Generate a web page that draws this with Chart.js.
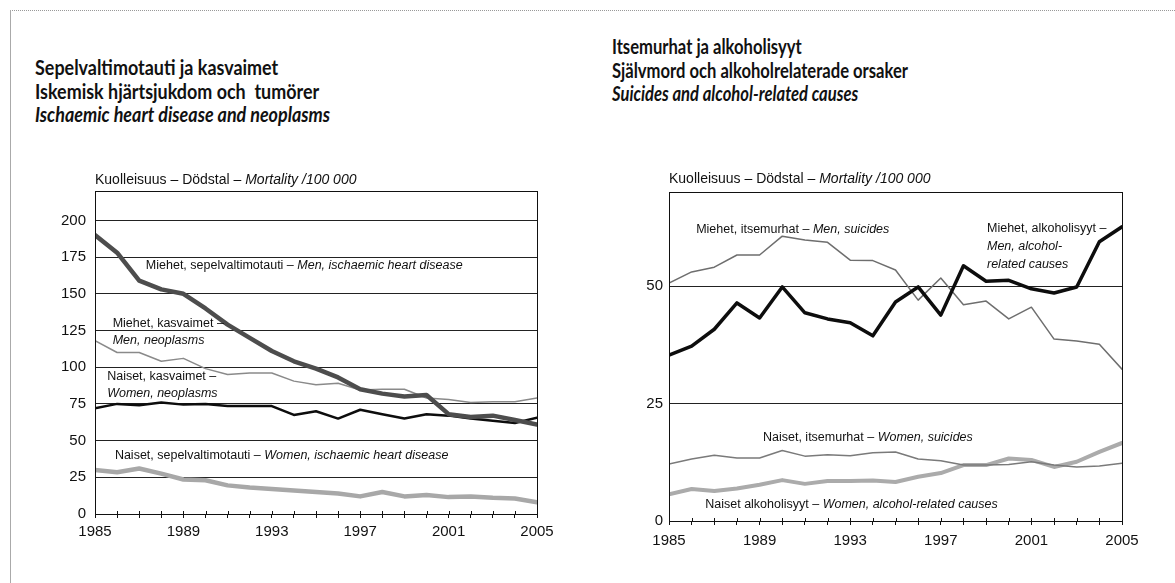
<!DOCTYPE html>
<html>
<head>
<meta charset="utf-8">
<script src="https://cdn.jsdelivr.net/npm/chart.js@4.4.1/dist/chart.umd.min.js"></script>
<style>
  html, body { margin: 0; padding: 0; background: #fff; }
  body { width: 1175px; height: 583px; position: relative; overflow: hidden; font-family: "Liberation Sans", Arial, sans-serif; }
  .frameTop { position: absolute; left: 10px; top: 10px; right: 0; border-top: 1px dotted #999; }
  .frameLeft { position: absolute; left: 10px; top: 10px; bottom: 0; border-left: 1px solid #aaa; }
  .title { position: absolute; font-family: Lato, "Open Sans", sans-serif; font-weight: bold; font-size: 20px; line-height: 23.5px; color: #111; white-space: nowrap; transform-origin: 0 0; }
  .title i { font-weight: bold; }
  .cv { position: absolute; }
</style>
</head>
<body>
<div class="frameTop"></div>
<div class="frameLeft"></div>
<div class="title" id="t1" style="left:35px; top:56px;">Sepelvaltimotauti ja kasvaimet<br>Iskemisk hjärtsjukdom och&nbsp; tumörer<br><i>Ischaemic heart disease and neoplasms</i></div>
<div class="title" id="t2" style="left:612px; top:35px;">Itsemurhat ja alkoholisyyt<br>Självmord och alkoholrelaterade orsaker<br><i>Suicides and alcohol-related causes</i></div>
<div class="cv" style="left:40px; top:140px; width:540px; height:420px;"><canvas id="c1" width="540" height="420"></canvas></div>
<div class="cv" style="left:610px; top:140px; width:560px; height:420px;"><canvas id="c2" width="560" height="420"></canvas></div>
<script>
// ---------- DATA ----------
const years = [1985,1986,1987,1988,1989,1990,1991,1992,1993,1994,1995,1996,1997,1998,1999,2000,2001,2002,2003,2004,2005];
const xTickLabels = [1985,1989,1993,1997,2001,2005];
const yTicksLeft = [0,25,50,75,100,125,150,175,200];
const yTicksRight = [0,25,50];

// Left chart: ischaemic heart disease and neoplasms
const menIschaemic   = [190,178,159,153,150,140,129,120,111,104,99,93,85,82,80,81,68,66,67,64,61];
const menNeoplasms   = [118,110,110,104,106,99,95,96,96,90.5,88,89,84.5,85,85,79,78,76,76.5,76.5,79];
const womenNeoplasms = [72,75,74,76,74.5,75,73.5,73.5,73.5,67.5,70,65,71,68,65,68,67,65,63.5,62,65.5];
const womenIschaemic = [30,28.5,31,27.5,23.5,23,19.5,18,17,16,15,14,12,15,12,13,11.5,12,11,10.5,8];

// Right chart: suicides and alcohol-related causes
const menSuicides    = [50.6,53,54,56.6,56.6,60.6,59.8,59.3,55.5,55.4,53.4,47,51.7,46,46.8,43,45.5,38.7,38.3,37.6,32.3];
const menAlcohol     = [35.3,37.2,40.8,46.4,43.2,49.8,44.3,43,42.2,39.4,46.6,49.8,43.8,54.3,51,51.2,49.4,48.5,49.8,59.4,62.6];
const womenSuicides  = [12.1,13.2,14,13.4,13.4,15,13.8,14.1,13.9,14.5,14.7,13.2,12.8,11.9,11.9,12,12.6,11.9,11.5,11.7,12.3];
const womenAlcohol   = [5.7,6.8,6.4,6.9,7.7,8.7,7.9,8.5,8.5,8.6,8.3,9.4,10.2,11.9,11.9,13.3,13,11.5,12.6,14.7,16.6];

const axisTitle = [["Kuolleisuus – Dödstal – ", false], ["Mortality /100 000", true]];

// annotation text (anchored in data units)
const leftNotes = [
  { x: 1987.3, y: 169.4, parts: [["Miehet, sepelvaltimotauti – ", false], ["Men, ischaemic heart disease", true]] },
  { x: 1985.8, y: 130,   parts: [["Miehet, kasvaimet –", false]] },
  { x: 1985.8, y: 118.4, parts: [["Men, neoplasms", true]] },
  { x: 1985.55, y: 93.9, parts: [["Naiset, kasvaimet –", false]] },
  { x: 1985.55, y: 82.3, parts: [["Women, neoplasms", true]] },
  { x: 1985.9, y: 40.1,  parts: [["Naiset, sepelvaltimotauti – ", false], ["Women, ischaemic heart disease", true]] }
];
const rightNotes = [
  { x: 1986.2, y: 62.1,  parts: [["Miehet, itsemurhat – ", false], ["Men, suicides", true]] },
  { x: 1999.04, y: 62.3, parts: [["Miehet, alkoholisyyt –", false]] },
  { x: 1999.04, y: 58.3, parts: [["Men, alcohol-", true]] },
  { x: 1999.04, y: 54.5, parts: [["related causes", true]] },
  { x: 1989.15, y: 17.7, parts: [["Naiset, itsemurhat – ", false], ["Women, suicides", true]] },
  { x: 1986.6, y: 3.6,   parts: [["Naiset alkoholisyyt – ", false], ["Women, alcohol-related causes", true]] }
];

// ---------- helpers ----------
const FONT = '"Liberation Sans", Arial, sans-serif';
function drawParts(ctx, parts, x, y, size) {
  let cx = x;
  parts.forEach(([txt, it]) => {
    ctx.font = (it ? 'italic ' : '') + size + 'px ' + FONT;
    ctx.fillText(txt, cx, y);
    cx += ctx.measureText(txt).width;
  });
}
function pts(vals) { return years.map((y, i) => ({ x: y, y: vals[i] })); }

const decorPlugin = {
  id: 'decor',
  afterDatasetsDraw(chart, args, opts) {
    const { ctx, chartArea: a, scales } = chart;
    ctx.save();
    // frame
    ctx.strokeStyle = '#111';
    ctx.lineWidth = 1;
    ctx.strokeRect(Math.round(a.left) + 0.5, Math.round(a.top) + 0.5, Math.round(a.right - a.left), Math.round(a.bottom - a.top));
    // inner yearly tick marks
    ctx.beginPath();
    years.forEach(yr => {
      const px = Math.round(scales.x.getPixelForValue(yr)) + 0.5;
      ctx.moveTo(px, a.bottom);
      ctx.lineTo(px, a.bottom - 3);
    });
    ctx.stroke();
    // annotations
    ctx.fillStyle = '#111';
    ctx.textBaseline = 'middle';
    ctx.textAlign = 'left';
    opts.notes.forEach(n => {
      drawParts(ctx, n.parts, scales.x.getPixelForValue(n.x), scales.y.getPixelForValue(n.y), opts.noteSize);
    });
    // axis title
    ctx.textBaseline = 'alphabetic';
    drawParts(ctx, axisTitle, a.left, a.top - opts.titleGap, opts.titleSize);
    ctx.restore();
  }
};

function makeChart(id, datasets, yMax, yTicks, geom, notes) {
  return new Chart(document.getElementById(id), {
    type: 'line',
    data: { datasets },
    options: {
      responsive: false,
      animation: false,
      events: [],
      layout: { padding: { top: geom.padTop, right: geom.padRight, left: 0, bottom: 0 } },
      plugins: {
        legend: { display: false }, tooltip: { enabled: false },
        decor: { notes, noteSize: 12.5, titleSize: 14, titleGap: geom.titleGap }
      },
      elements: { point: { radius: 0 }, line: { tension: 0, borderJoinStyle: 'round', borderCapStyle: 'round' } },
      scales: {
        x: {
          type: 'linear', min: 1985, max: 2005,
          afterBuildTicks: s => { s.ticks = years.map(v => ({ value: v })); },
          afterFit: s => { s.height = geom.xHeight; },
          ticks: {
            autoSkip: false, maxRotation: 0, padding: geom.xPad, color: '#111',
            font: { family: FONT, size: 15 },
            callback: v => xTickLabels.includes(v) ? String(v) : ''
          },
          grid: { display: true, drawOnChartArea: false, drawTicks: true, tickLength: 4, color: '#111', lineWidth: 1 },
          border: { display: false }
        },
        y: {
          min: 0, max: yMax,
          afterBuildTicks: s => { s.ticks = yTicks.map(v => ({ value: v })); },
          afterFit: s => { s.width = geom.yWidth; },
          ticks: { padding: geom.yPad, color: '#111', font: { family: FONT, size: 15 } },
          grid: { color: '#222', lineWidth: 1, drawTicks: false },
          border: { display: false }
        }
      }
    },
    plugins: [decorPlugin]
  });
}

makeChart('c1', [
  { data: pts(menIschaemic),   borderColor: '#4d4d4d', borderWidth: 4.5 },
  { data: pts(womenNeoplasms), borderColor: '#0d0d0d', borderWidth: 2.5 },
  { data: pts(menNeoplasms),   borderColor: '#8a8a8a', borderWidth: 1.5 },
  { data: pts(womenIschaemic), borderColor: '#a8a8a8', borderWidth: 4.5 }
], 220, yTicksLeft, { padTop: 51, padRight: 43, xHeight: 46, yWidth: 55, xPad: 5, yPad: 9, titleGap: 7 }, leftNotes);

makeChart('c2', [
  { data: pts(menAlcohol),    borderColor: '#0d0d0d', borderWidth: 3.5 },
  { data: pts(menSuicides),   borderColor: '#6e6e6e', borderWidth: 1.5 },
  { data: pts(womenSuicides), borderColor: '#7a7a7a', borderWidth: 1.5 },
  { data: pts(womenAlcohol),  borderColor: '#ababab', borderWidth: 4 }
], 70, yTicksRight, { padTop: 52, padRight: 48, xHeight: 39, yWidth: 59, xPad: 7, yPad: 6, titleGap: 9 }, rightNotes);

// condense titles to the reference widths
function fitTitle(id, target) {
  const el = document.getElementById(id);
  const w = el.getBoundingClientRect().width;
  el.style.transform = 'scaleX(' + (target / w) + ')';
}
fitTitle('t1', 295);
fitTitle('t2', 296);
</script>
</body>
</html>
